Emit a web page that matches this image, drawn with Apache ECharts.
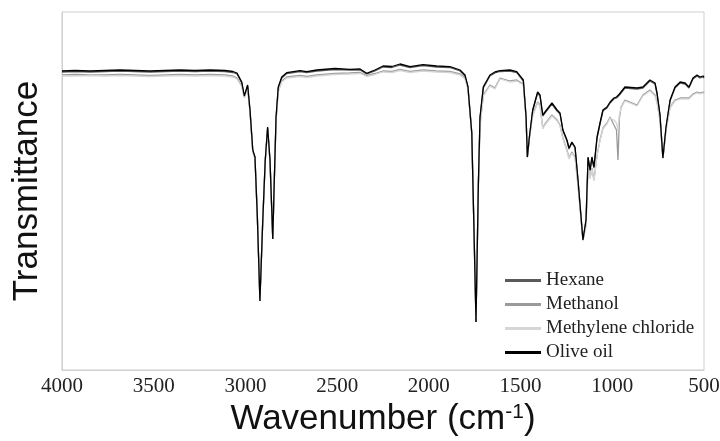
<!DOCTYPE html>
<html>
<head>
<meta charset="utf-8">
<script src="https://cdn.jsdelivr.net/npm/echarts@6/dist/echarts.min.js"></script>
<style>html,body{margin:0;padding:0;background:#fff;}#c{width:720px;height:441px;}</style>
</head>
<body>
<div id="c"></div>
<script>
// Wavenumber grid (cm-1)
var wavenumbers = [4000,3929,3847,3766,3684,3602,3520,3438,3357,3275,3193,3111,3068,3046,3020,3006,2988,2975,2960,2948,2935,2921,2906,2892,2879,2866,2851,2843,2833,2821,2802,2775,2702,2666,2611,2512,2430,2375,2339,2294,2250,2201,2157,2103,2032,1957,1885,1830,1803,1787,1766,1754,1743,1730,1721,1703,1667,1640,1612,1558,1521,1485,1470,1463,1452,1434,1407,1394,1379,1367,1329,1301,1285,1269,1247,1236,1220,1203,1187,1160,1143,1132,1121,1111,1100,1083,1067,1051,1029,1012,991,977,969,961,952,931,865,833,795,767,756,740,724,707,685,658,630,603,582,560,538,522,505,500];
// Transmittance (arbitrary units)
var oliveOil = [299,299.5,299,299.5,300,299.5,299,299.5,300,299.5,300,299.5,298.5,297,288,274,285,260,220,213,153,69,147,210,243,210,131,187,253,283,293,297.3,299.3,298.3,300,301.5,300.7,301,296.7,300,304,303.5,306,303.3,305.3,304,303.3,300,295,283.3,237,140,48,187,253,283.3,295,298,299.3,300,298.3,290,253,213,233,260,278,275,255,258,267,260,257,240,230,222,228,223,190,130,150,213,200,213,203,233,247,260,263,268,272,273,274,276,278,283,282,283,290,287,277,255,212,243,270,283,288,287,283,292,295,293,294,293];
var hexane = [298,298.5,298,298.5,299,298.5,298,298.5,299,298.5,299,298.5,297.5,296,287,273.5,284,259,219,212.5,153,69,147,209,242,209,131,186,252,282,292,296.5,298.5,297.5,299,300.5,300,300,296,299,303,302.5,305,302.5,304.5,303,302.5,299,294,283,237,140,48,186,252,282,294,297,298.5,299,297.5,289,252,213,232,259,277,274,254,257,266,259,256,239,229,221,227,222,190,130,150,212,199,212,202,232,246,259,262,267,271,272,273,275,277,282,281,282,289,286,276,255,212,242,269,282,287,286,282,291,294,292,293,292];
var methanol = [295,295.5,295,295,295.5,295,294.5,295,295.5,295,295.5,295,294,292,284,273,282,258,219,212,153,70,147,209,241,209,132,186,250,279,289,293,294.5,293.5,295,296.5,297,297.5,294.5,296.5,299,298.5,300.5,298.5,300,299,298.5,296,292,282,237,140,52,185,245,275,285,282,292,289,290,286,253,213,232,255,268,265,242,246,255,250,245,232,220,212,218,213,185,130,145,205,192,202,190,215,230,242,247,253,245,240,210,252,263,270,265,275,280,275,268,250,212,240,263,270,272,272,272,276,278,277,278,277];
var methyleneChloride = [294,294,294.5,294,294.5,294,293.5,294,294.5,294,294.5,294,293,291,283,272,281,257,218,211,152,70,146,208,240,208,132,185,249,278,288,292,293.5,292.5,294,295.5,296,296.5,293.5,295.5,298,297.5,299.5,297.5,299,298,297.5,295,291,281,236,139,51,184,244,274,284,281,291,288,289,285,252,212,231,254,267,264,241,245,254,249,244,231,219,211,217,212,184,129,144,204,191,201,189,214,229,241,246,252,250,247,240,256,262,269,264,274,279,274,267,249,211,239,262,269,271,271,271,275,277,276,277,276];
var seriesNames = ['Hexane','Methanol','Methylene chloride','Olive oil'];
var seriesValues = [hexane, methanol, methyleneChloride, oliveOil];
var xTicks = [4000,3500,3000,2500,2000,1500,1000,500];

var colors = ['#5a5a5a','#9a9a9a','#d6d6d6','#000000'];
function pairs(vals){ return wavenumbers.map(function(w,i){ return [w, vals[i]]; }); }

var chart = echarts.init(document.getElementById('c'), null, {renderer:'canvas'});
chart.setOption({
  animation: false,
  backgroundColor: '#ffffff',
  grid: {left: 62, right: 16, top: 12, bottom: 71, containLabel: false, outerBoundsMode: 'none',
    show: true, borderColor: '#cfcfcf', borderWidth: 1, backgroundColor: 'transparent'},
  xAxis: {
    type: 'value', inverse: true, min: 500, max: 4000, interval: 500,
    axisLine: {show: true, lineStyle: {color: '#cfcfcf'}},
    axisTick: {show: false},
    splitLine: {show: false},
    axisLabel: {fontFamily: 'Liberation Serif', fontSize: 21, color: '#222', margin: 6,
      formatter: function(v){ return xTicks.indexOf(v) >= 0 ? String(v) : ''; }},
    name: 'Wavenumber (cm{sup|-1})',
    nameLocation: 'middle', nameGap: 31,
    nameTextStyle: {fontFamily: 'Liberation Sans', fontSize: 35, color: '#111',
      rich: {sup: {fontFamily: 'Liberation Sans', fontSize: 21, color: '#111', verticalAlign: 'top'}}}
  },
  yAxis: {
    type: 'value', min: 0, max: 358,
    axisLine: {show: true, lineStyle: {color: '#cfcfcf'}},
    axisTick: {show: false}, axisLabel: {show: false}, splitLine: {show: false},
    name: 'Transmittance', nameLocation: 'middle', nameGap: 17,
    nameTextStyle: {fontFamily: 'Liberation Sans', fontSize: 35, color: '#111'}
  },
  legend: {
    orient: 'vertical', left: 500, top: 266,
    itemWidth: 36, itemHeight: 3, itemGap: 5,
    icon: 'rect',
    data: seriesNames,
    textStyle: {fontFamily: 'Liberation Serif', fontSize: 19, color: '#222', lineHeight: 19}
  },
  series: seriesNames.map(function(n, i){
    return {name: n, type: 'line', data: pairs(seriesValues[i]), symbol: 'none', showSymbol: false,
      lineStyle: {color: colors[i], width: 1.3}, itemStyle: {color: colors[i]}, z: 2 + i};
  })
});
</script>
</body>
</html>
